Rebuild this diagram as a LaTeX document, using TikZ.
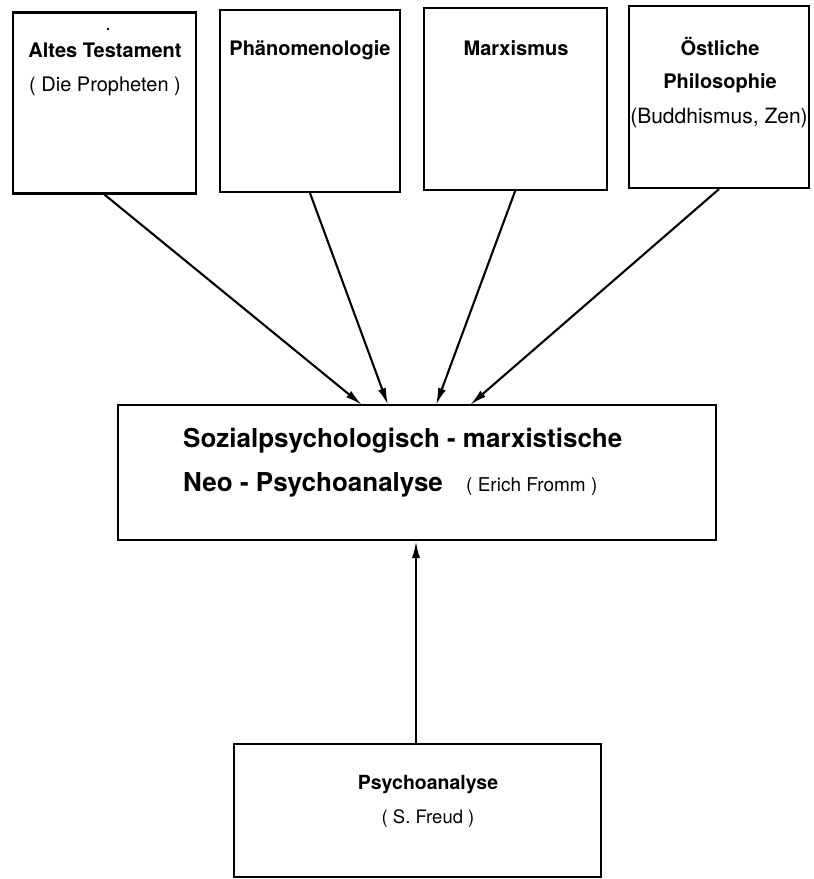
\documentclass[tikz,border=0pt]{standalone}
\usepackage{fontspec}
\setmainfont{TeX Gyre Heros}
\usetikzlibrary{arrows.meta}
\begin{document}
\begin{tikzpicture}[x=1pt,y=-1pt,
  box/.style={draw=black,line width=2.2pt,inner sep=0pt,fill=none},
  lbl/.style={anchor=base,inner sep=0pt},
  bl/.style={lbl,font=\fontsize{20}{24}\selectfont\bfseries},
  rl/.style={lbl,font=\fontsize{20}{24}\selectfont},
  arr/.style={line width=2.1pt,-{Latex[length=17pt,width=8pt]}}]
\useasboundingbox (0,0) rectangle (814,879);
% top boxes
\node[box,minimum width=183pt,minimum height=181pt] (b1) at (104.5,103) {};
\node[box,minimum width=180pt,minimum height=182pt] (b2) at (310,101) {};
\node[box,minimum width=183pt,minimum height=182pt] (b3) at (515.5,99) {};
\node[box,minimum width=180pt,minimum height=182pt] (b4) at (719,97) {};
% middle box
\node[box,minimum width=598pt,minimum height=135pt] (m) at (417,472.5) {};
% bottom box
\node[box,minimum width=367pt,minimum height=133pt] (p) at (417.5,810.5) {};
% texts
\node[bl] (t1a) at (105,57) {Altes Testament};
\node[rl] (t1b) at (105,91) {( Die Propheten )};
\fill (108,29) circle (1.3pt);
\node[bl] (t2a) at (310,55) {Phänomenologie};
\node[bl] (t3a) at (516,55) {Marxismus};
\node[bl] (t4a) at (720,55) {Östliche};
\node[bl] (t4b) at (720,88) {Philosophie};
\node[lbl,font=\fontsize{21}{24}\selectfont] (t4c) at (719,123) {(Buddhismus, Zen)};
\node[lbl,anchor=base west,font=\fontsize{26}{30}\selectfont\bfseries] (m1) at (183,447) {Sozialpsychologisch - marxistische};
\node[lbl,anchor=base west,font=\fontsize{26}{30}\selectfont\bfseries] (m2) at (183,491) {Neo - Psychoanalyse};
\node[lbl,anchor=base west,font=\fontsize{19}{24}\selectfont] (m3) at (466,491) {( Erich Fromm )};
\node[lbl,font=\fontsize{19.5}{24}\selectfont\bfseries] (p1) at (428,789) {Psychoanalyse};
\node[lbl,font=\fontsize{18.5}{24}\selectfont] (p2) at (428,823) {( S. Freud )};
% arrow ends
\coordinate (e1) at (362,405);
\coordinate (e2) at (388,405);
\coordinate (e3) at (436,405);
\coordinate (e4) at (470,405);
\coordinate (s3) at (515.5,190);
\draw[arr] (b1.south) -- (e1);
\draw[arr] (b2.south) -- (e2);
\draw[arr] (s3) -- (e3);
\draw[arr] (b4.south) -- (e4);
\draw[arr] (p.north -| 416,0) -- (m.south -| 416,0);
\end{tikzpicture}
\end{document}
